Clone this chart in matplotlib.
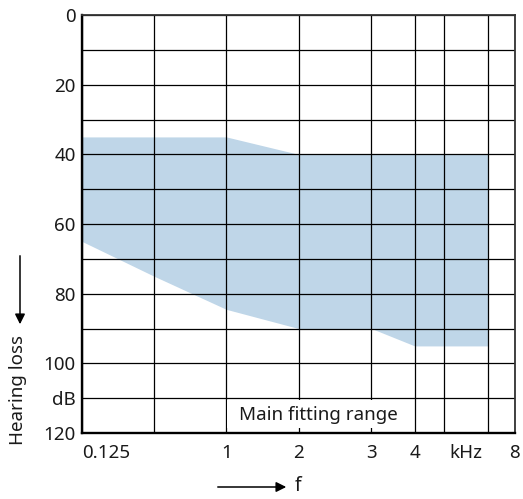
import numpy as np
import matplotlib
matplotlib.use('Agg')
import matplotlib.pyplot as plt
from matplotlib.patches import Rectangle, FancyArrowPatch

plt.rcParams['font.family'] = ['Noto Sans', 'DejaVu Sans']

# frequency grid (kHz) and the schematic axis spacing used by the chart
grid_freqs = [0.125, 0.5, 1, 2, 3, 4, 5, 6, 8]
grid_pos = [0, 1, 2, 3, 4.01, 4.61, 5.01, 5.62, 6.0]

tick_freqs = [0.125, 1, 2, 3, 4, 5.48, 8]
tick_labels = ['0.125', '1', '2', '3', '4', 'kHz', '8']

db_ticks = [0, 20, 40, 60, 80, 100, 110, 120]
db_labels = ['0', '20', '40', '60', '80', '100', 'dB', '120']

# fitting range boundaries (dB HL)
upper_f = [0.125, 1, 2, 6]
upper_db = [35, 35, 40, 40]
lower_f = [0.125, 0.5, 1, 2, 3, 4, 6]
lower_db = [65, 75, 84.5, 90, 90, 95, 95]

lf = np.log2(grid_freqs)


def fwd(f):
    f = np.clip(np.asarray(f, dtype=float), 1e-6, None)
    return np.interp(np.log2(f), lf, grid_pos)


def inv(p):
    return 2 ** np.interp(p, grid_pos, lf)


fs = 13.5
fig = plt.figure(figsize=(5.23, 4.99), dpi=100)
ax = fig.add_axes([82/523, 1-433/499, 433/523, 418/499])
ax.set_xscale('function', functions=(fwd, inv))
ax.set_xlim(0.125, 8)
ax.set_ylim(120, 0)

# polygon of the fitting range
fine = np.geomspace(0.125, 6, 400)
top = np.interp(np.log2(fine), np.log2(upper_f), upper_db)
bot = np.interp(fwd(fine), fwd(lower_f), lower_db)
ax.fill_between(fine, top, bot, color='#bfd6e8', lw=0, zorder=1)

ax.xaxis.remove_overlapping_locs = False
ax.yaxis.remove_overlapping_locs = False
ax.set_xticks(grid_freqs, minor=True)
ax.set_yticks(np.arange(0, 121, 10), minor=True)
ax.set_xticks(tick_freqs)
ax.set_xticklabels(tick_labels)
ax.set_yticks(db_ticks)
ax.set_yticklabels(db_labels)
for lab in ax.get_xticklabels():
    if lab.get_text() == '0.125':
        lab.set_ha('left')
ax.tick_params(which='both', length=0, labelsize=fs, colors='#1a1a1a')
ax.tick_params(axis='x', pad=8)
ax.tick_params(axis='y', pad=4.5)
ax.grid(which='minor', color='black', lw=0.9)
ax.grid(which='major', visible=False)

for s in ['left', 'bottom']:
    ax.spines[s].set_linewidth(1.7)
for s in ['top', 'right']:
    ax.spines[s].set_linewidth(1.3)
    ax.spines[s].set_color('#333333')

# white label box inside the lowest grid row (grid stubs stay visible at the bottom)
ax.add_patch(Rectangle((0.335, 0.012), 0.427, 0.068, transform=ax.transAxes,
                       fc='white', ec='none', zorder=3))
ax.text(0.545, 0.044, 'Main fitting range', transform=ax.transAxes,
        ha='center', va='center', fontsize=fs, color='#1a1a1a', zorder=4)

# axis captions with arrows
fig.text(18/523, 1-390/499, 'Hearing loss', rotation=90, ha='center', va='center',
         fontsize=fs, color='#1a1a1a')
fig.add_artist(FancyArrowPatch(
    (20/523, 1-253/499), (20/523, 1-327/499), transform=fig.transFigure,
    arrowstyle='-|>,head_length=6,head_width=3', color='black', lw=1.1))
fig.text(298/523, 1-486/499, 'f', ha='center', va='center', fontsize=fs + 0.5, color='#1a1a1a')
fig.add_artist(FancyArrowPatch(
    (215/523, 1-487/499), (289/523, 1-487/499), transform=fig.transFigure,
    arrowstyle='-|>,head_length=6,head_width=3', color='black', lw=1.1))

fig.savefig('out.png', dpi=100)
